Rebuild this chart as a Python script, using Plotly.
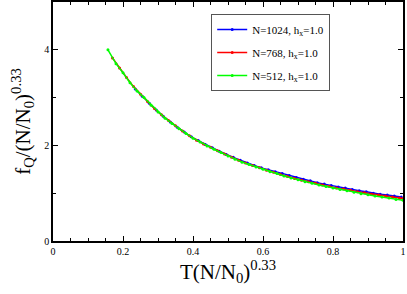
import plotly.graph_objects as go

# N=512 (green)
x_512 = [0.157, 0.18, 0.20, 0.22, 0.24, 0.26, 0.28, 0.30, 0.32, 0.34, 0.36, 0.38, 0.40,
         0.42, 0.44, 0.46, 0.48, 0.50, 0.52, 0.54, 0.56, 0.58, 0.60, 0.62, 0.64, 0.66,
         0.68, 0.70, 0.72, 0.74, 0.76, 0.78, 0.80, 0.82, 0.84, 0.86, 0.88, 0.90, 0.92,
         0.94, 0.96, 0.98, 1.00]
y_512 = [4.00, 3.71, 3.52, 3.31, 3.14, 3.00, 2.84, 2.70, 2.57, 2.46, 2.35, 2.25, 2.15,
         2.07, 1.99, 1.92, 1.85, 1.78, 1.71, 1.65, 1.60, 1.55, 1.50, 1.45, 1.41, 1.36,
         1.32, 1.28, 1.24, 1.21, 1.17, 1.14, 1.11, 1.08, 1.05, 1.02, 0.99, 0.97, 0.94,
         0.92, 0.90, 0.87, 0.85]

# N=768 (red)
x_768 = [0.17, 0.19, 0.21, 0.23, 0.25, 0.27, 0.29, 0.31, 0.33, 0.35, 0.37, 0.39, 0.41,
         0.43, 0.45, 0.47, 0.49, 0.51, 0.53, 0.55, 0.57, 0.59, 0.61, 0.63, 0.65, 0.67,
         0.69, 0.71, 0.73, 0.75, 0.77, 0.79, 0.81, 0.83, 0.85, 0.87, 0.89, 0.91, 0.93,
         0.95, 0.97, 0.99, 1.00]
y_768 = [3.83, 3.62, 3.42, 3.23, 3.07, 2.92, 2.77, 2.64, 2.52, 2.41, 2.30, 2.20, 2.11,
         2.03, 1.96, 1.89, 1.82, 1.75, 1.69, 1.63, 1.58, 1.53, 1.48, 1.44, 1.39, 1.35,
         1.31, 1.27, 1.24, 1.21, 1.17, 1.14, 1.11, 1.09, 1.06, 1.03, 1.01, 0.98, 0.96,
         0.94, 0.92, 0.90, 0.89]

# N=1024 (blue)
x_1024 = [0.235, 0.255, 0.275, 0.295, 0.315, 0.335, 0.355, 0.375, 0.395, 0.415, 0.435,
          0.455, 0.475, 0.495, 0.515, 0.535, 0.555, 0.575, 0.595, 0.615, 0.635, 0.655,
          0.675, 0.695, 0.715, 0.735, 0.755, 0.775, 0.795, 0.815, 0.835, 0.855, 0.875,
          0.895, 0.915, 0.935, 0.955, 0.975, 0.995]
y_1024 = [3.18, 3.03, 2.88, 2.74, 2.61, 2.49, 2.38, 2.28, 2.18, 2.10, 2.02,
          1.95, 1.88, 1.81, 1.75, 1.69, 1.63, 1.58, 1.53, 1.49, 1.45, 1.41,
          1.37, 1.33, 1.29, 1.26, 1.22, 1.19, 1.16, 1.13, 1.11, 1.08, 1.05,
          1.03, 1.00, 0.98, 0.96, 0.94, 0.92]

series = [
    ("N=1024, h<sub>x</sub>=1.0", x_1024, y_1024, "#0000ff"),
    ("N=768, h<sub>x</sub>=1.0", x_768, y_768, "#ff0000"),
    ("N=512, h<sub>x</sub>=1.0", x_512, y_512, "#00ff00"),
]

fig = go.Figure()
for i, (name, xs, ys, col) in enumerate(series):
    fig.add_trace(go.Scatter(
        x=xs, y=ys, name=name, mode="lines+markers", legendgroup=f"g{i}",
        line=dict(color=col, width=1.5),
        marker=dict(color=col, size=3, symbol="circle"),
    ))

font_family = "Liberation Serif"
fig.update_layout(
    width=407, height=294,
    margin=dict(l=53, r=4, t=2, b=53),
    paper_bgcolor="white", plot_bgcolor="white",
    font=dict(family=font_family, color="black", size=10),
    showlegend=True,
    legend=dict(
        x=0.452, y=0.95, xanchor="left", yanchor="top",
        bgcolor="white", bordercolor="#555555", borderwidth=1,
        font=dict(family=font_family, size=11),
        itemwidth=30, traceorder="grouped", tracegroupgap=4,
    ),
    xaxis=dict(
        range=[0, 1], dtick=0.2, tickformat="~g",
        ticks="inside", ticklen=5, tickwidth=1, tickcolor="black",
        minor=dict(dtick=0.05, ticks="inside", ticklen=3, tickcolor="black"),
        showline=True, linecolor="black", linewidth=1.5, mirror="ticks",
        showgrid=False, zeroline=False, automargin=False,
        tickfont=dict(family=font_family, size=10),
        title=dict(text="T(N/N<sub>0</sub>)<sup>0.33</sup>",
                   font=dict(family=font_family, size=21), standoff=6),
    ),
    yaxis=dict(
        range=[0, 5], tickvals=[0, 2, 4],
        ticks="inside", ticklen=5, tickwidth=1, tickcolor="black",
        minor=dict(dtick=1, ticks="inside", ticklen=3, tickcolor="black"),
        showline=True, linecolor="black", linewidth=1.5, mirror="ticks",
        showgrid=False, zeroline=False, automargin=False,
        tickfont=dict(family=font_family, size=10),
        title=dict(text="f<sub>Q</sub>/(N/N<sub>0</sub>)<sup>0.33</sup>",
                   font=dict(family=font_family, size=21), standoff=8),
    ),
)

fig.write_html("out.html", config={"displayModeBar": False},
               post_script="document.body.style.margin='0px';")
